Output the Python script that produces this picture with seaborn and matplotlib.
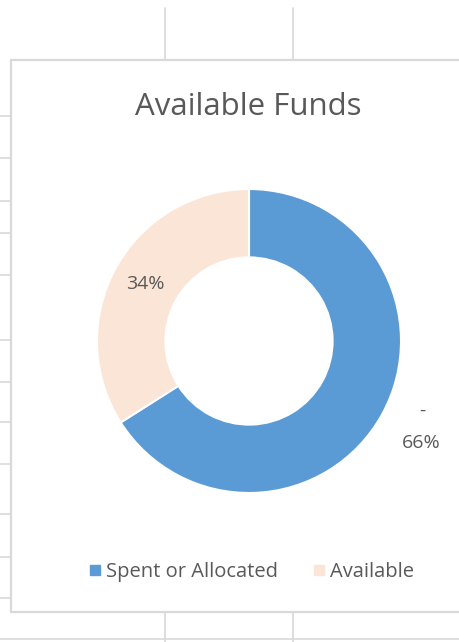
import matplotlib
matplotlib.use('Agg')
import matplotlib.pyplot as plt
from matplotlib.lines import Line2D
import seaborn as sns
import numpy as np

# data
categories = ["Spent or Allocated", "Available"]
values = [66, 34]
colors = ["#5B9BD5", "#FBE5D6"]
title = "Available Funds"

sns.set_theme(style="white")
plt.rcParams['font.family'] = ['Open Sans', 'DejaVu Sans']
TXT = "#595959"

W, H = 459, 642
fig = plt.figure(figsize=(W / 100, H / 100), dpi=100)
fig.patch.set_facecolor("white")

# spreadsheet gridlines behind the chart
grid_c = "#D9D9D9"
def hline(y, x0=0, x1=W, lw=1.2):
    fig.add_artist(Line2D([x0 / W, x1 / W], [1 - y / H, 1 - y / H], color=grid_c, lw=lw))
def vline(x, y0=0, y1=H, lw=1.2):
    fig.add_artist(Line2D([x / W, x / W], [1 - y0 / H, 1 - y1 / H], color=grid_c, lw=lw))

for y in [116, 158, 201, 233, 275, 340, 382, 422, 464, 514, 557, 598]:
    hline(y, 0, 11)
for x in [165, 293]:
    vline(x, 8, 60)
    vline(x, 612, H)
hline(639)
# chart frame
hline(60, 11, W, lw=1.6)
vline(11, 60, 612, lw=1.6)
hline(612, 11, W, lw=1.6)

# doughnut
cx, cy, R = 249, 341, 152
half = 1.5 * R
ax = fig.add_axes([(cx - half) / W, (H - cy - half) / H, 2 * half / W, 2 * half / H])

wedges, _ = ax.pie(values, colors=colors, startangle=90, counterclock=False,
                   radius=1.0, wedgeprops=dict(width=0.45, edgecolor="white", linewidth=1.5))
ax.set_xlim(-1.5, 1.5)
ax.set_ylim(-1.5, 1.5)
ax.set_aspect('equal')
ax.axis('off')

total = sum(values)
for i, w in enumerate(wedges):
    ang = np.deg2rad((w.theta1 + w.theta2) / 2)
    pct = f"{round(values[i] / total * 100)}%"
    if i == 0:
        r = 1.29
        x, y = r * np.cos(ang), r * np.sin(ang)
        ax.text(x, y - 0.05, pct, ha='center', va='center', fontsize=14, color=TXT)
        ax.text(x + 0.01, y + 0.16, "-", ha='center', va='center', fontsize=14, color=TXT)
    else:
        r = 0.78
        ax.text(r * np.cos(ang), r * np.sin(ang), pct, ha='center', va='center',
                fontsize=14, color=TXT)

fig.text(248 / W, 1 - 107 / H, title, ha='center', va='center', fontsize=22.5, color=TXT)

handles = [Line2D([], [], marker='s', linestyle='none', markersize=6.5,
                  markerfacecolor=c, markeredgecolor=c) for c in colors]
fig.legend(handles, categories, loc='center', bbox_to_anchor=(252 / W, 1 - 572 / H),
           ncol=2, frameon=False, fontsize=14.5, labelcolor=TXT,
           handlelength=0.5, handletextpad=0.3, columnspacing=1.8)

fig.savefig("out.png", dpi=100, facecolor="white")
